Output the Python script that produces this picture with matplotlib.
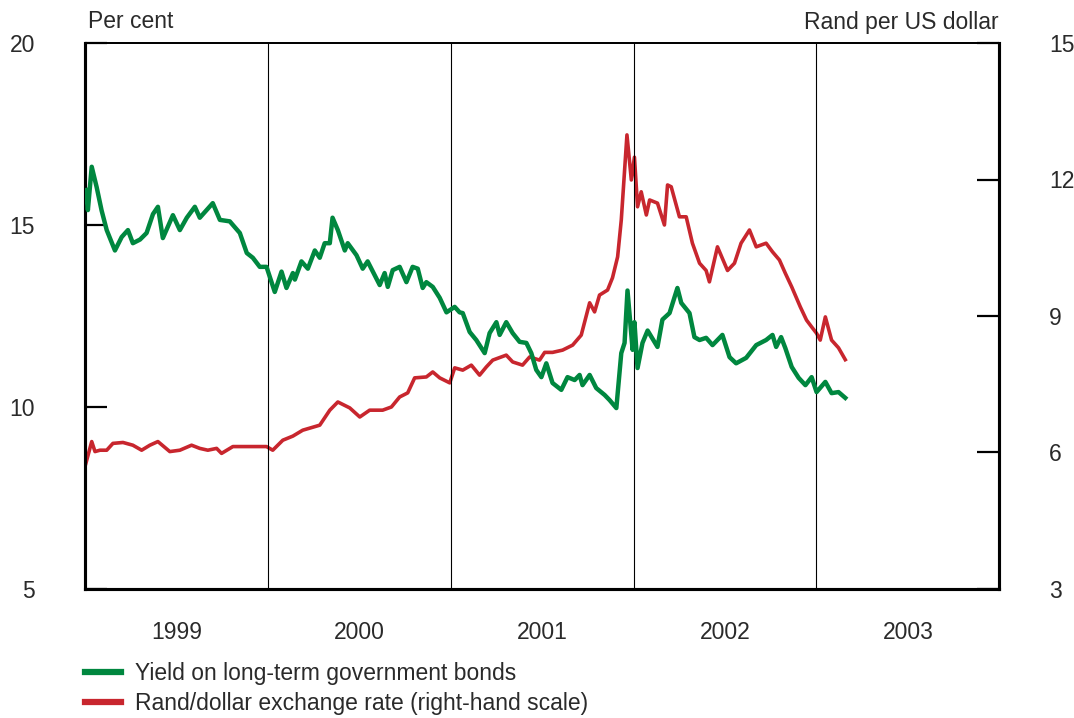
import matplotlib
matplotlib.use('Agg')
import matplotlib.pyplot as plt
from matplotlib.ticker import FixedLocator, NullFormatter

plt.rcParams['font.family'] = ['Liberation Sans', 'DejaVu Sans']

# bond yield, per cent (left scale)
yield_t = [1999.005, 1999.016, 1999.037, 1999.064, 1999.091, 1999.119, 1999.164, 1999.201, 1999.235, 1999.262,
           1999.301, 1999.337, 1999.372, 1999.399, 1999.426, 1999.481, 1999.519, 1999.557, 1999.601, 1999.628,
           1999.699, 1999.738, 1999.792, 1999.847, 1999.885, 1999.918, 1999.956, 1999.993, 2000.038, 2000.075,
           2000.102, 2000.137, 2000.148, 2000.184, 2000.219, 2000.257, 2000.284, 2000.311, 2000.339, 2000.354,
           2000.383, 2000.421, 2000.437, 2000.485, 2000.519, 2000.546, 2000.612, 2000.639, 2000.656, 2000.683,
           2000.721, 2000.758, 2000.792, 2000.820, 2000.847, 2000.867, 2000.902, 2000.940, 2000.977, 2001.022,
           2001.049, 2001.066, 2001.104, 2001.140, 2001.186, 2001.213, 2001.250, 2001.268, 2001.304, 2001.339,
           2001.377, 2001.414, 2001.441, 2001.468, 2001.496, 2001.523, 2001.557, 2001.605, 2001.639, 2001.678,
           2001.705, 2001.721, 2001.760, 2001.796, 2001.842, 2001.869, 2001.906, 2001.933, 2001.951, 2001.967,
           2001.995, 2002.005, 2002.022, 2002.049, 2002.077, 2002.131, 2002.158, 2002.197, 2002.240, 2002.261,
           2002.306, 2002.333, 2002.361, 2002.397, 2002.432, 2002.486, 2002.525, 2002.561, 2002.616, 2002.671,
           2002.725, 2002.760, 2002.780, 2002.807, 2002.830, 2002.865, 2002.903, 2002.940, 2002.974, 2003.001,
           2003.049, 2003.083, 2003.121, 2003.158]
yield_v = [15.96, 15.41, 16.6, 16.04, 15.4, 14.86, 14.3, 14.67, 14.86, 14.5,
           14.6, 14.78, 15.3, 15.5, 14.64, 15.27, 14.86, 15.2, 15.5, 15.2,
           15.6, 15.14, 15.1, 14.78, 14.23, 14.1, 13.85, 13.85, 13.16, 13.72,
           13.27, 13.68, 13.5, 14.0, 13.8, 14.3, 14.1, 14.5, 14.5, 15.2,
           14.86, 14.3, 14.5, 14.17, 13.8, 14.0, 13.35, 13.68, 13.3, 13.76,
           13.85, 13.43, 13.85, 13.8, 13.27, 13.43, 13.3, 13.0, 12.6, 12.75,
           12.6, 12.58, 12.06, 11.84, 11.48, 12.03, 12.33, 11.98, 12.33, 12.03,
           11.79, 11.76, 11.48, 11.02, 10.82, 11.2, 10.66, 10.47, 10.82, 10.74,
           10.88, 10.6, 10.88, 10.52, 10.33, 10.19, 9.97, 11.48, 11.76, 13.2,
           11.57, 12.33, 11.07, 11.76, 12.1, 11.65, 12.4, 12.58, 13.27, 12.86,
           12.58, 11.92, 11.84, 11.9, 11.7, 11.98, 11.37, 11.2, 11.35, 11.7,
           11.84, 11.98, 11.65, 11.92, 11.62, 11.1, 10.8, 10.6, 10.82, 10.41,
           10.69, 10.38, 10.41, 10.25]

# rand per US dollar (right scale)
rand_t = [1999.005, 1999.037, 1999.055, 1999.082, 1999.119, 1999.153, 1999.208, 1999.262, 1999.310, 1999.355,
          1999.399, 1999.464, 1999.519, 1999.583, 1999.628, 1999.672, 1999.720, 1999.747, 1999.809, 1999.902,
          1999.993, 2000.027, 2000.082, 2000.137, 2000.191, 2000.284, 2000.339, 2000.383, 2000.448, 2000.503,
          2000.557, 2000.628, 2000.676, 2000.721, 2000.765, 2000.803, 2000.867, 2000.902, 2000.940, 2000.995,
          2001.022, 2001.066, 2001.113, 2001.158, 2001.195, 2001.230, 2001.304, 2001.339, 2001.393, 2001.432,
          2001.486, 2001.514, 2001.557, 2001.612, 2001.667, 2001.714, 2001.760, 2001.787, 2001.814, 2001.858,
          2001.885, 2001.913, 2001.933, 2001.964, 2001.988, 2002.005, 2002.022, 2002.042, 2002.070, 2002.088,
          2002.131, 2002.169, 2002.186, 2002.206, 2002.251, 2002.288, 2002.322, 2002.361, 2002.397, 2002.415,
          2002.459, 2002.514, 2002.552, 2002.588, 2002.634, 2002.671, 2002.725, 2002.760, 2002.798, 2002.830,
          2002.865, 2002.912, 2002.946, 2002.974, 2003.001, 2003.021, 2003.049, 2003.083, 2003.121, 2003.158]
rand_v = [5.76, 6.24, 6.02, 6.05, 6.05, 6.2, 6.22, 6.16, 6.05, 6.16,
          6.24, 6.02, 6.05, 6.16, 6.09, 6.05, 6.09, 5.98, 6.13, 6.13,
          6.13, 6.05, 6.27, 6.36, 6.49, 6.6, 6.93, 7.11, 6.98, 6.78,
          6.93, 6.93, 7.0, 7.22, 7.31, 7.64, 7.66, 7.77, 7.64, 7.53,
          7.86, 7.81, 7.92, 7.7, 7.88, 8.03, 8.14, 7.99, 7.92, 8.1,
          8.03, 8.2, 8.2, 8.25, 8.36, 8.58, 9.29, 9.09, 9.46, 9.57,
          9.84, 10.3, 11.11, 12.98, 11.99, 12.49, 11.4, 11.73, 11.22, 11.55,
          11.48, 11.0, 11.88, 11.84, 11.18, 11.18, 10.6, 10.16, 10.0, 9.75,
          10.52, 10.0, 10.16, 10.6, 10.89, 10.52, 10.6, 10.41, 10.23, 9.94,
          9.64, 9.2, 8.91, 8.76, 8.62, 8.47, 8.98, 8.47, 8.3, 8.04]

years = [1999, 2000, 2001, 2002, 2003]
left_ticks = [5, 10, 15, 20]
right_ticks = [3, 6, 9, 12, 15]

green = '#00873f'
red = '#c8262e'
txt = '#2a2a2a'
fs = 16.5

fig = plt.figure(figsize=(10.74, 7.18), dpi=100)
ax1 = fig.add_axes([0.0791, 0.1797, 0.8513, 0.7604])
ax2 = ax1.twinx()

for y in years[1:]:
    ax1.axvline(y, color='0.0', lw=0.8, zorder=1)

l1, = ax1.plot(yield_t, yield_v, color=green, lw=3.2, zorder=3,
               label='Yield on long-term government bonds')
l2, = ax2.plot(rand_t, rand_v, color=red, lw=2.6, zorder=3,
               label='Rand/dollar exchange rate (right-hand scale)')
ax1.set_zorder(ax2.get_zorder() + 1)
ax1.patch.set_visible(False)

ax1.set_xlim(1999, 2004)
ax1.set_ylim(5, 20)
ax2.set_ylim(3, 15)

ax1.xaxis.set_major_locator(FixedLocator(years[1:]))
ax1.xaxis.set_major_formatter(NullFormatter())
ax1.xaxis.set_minor_locator(FixedLocator([y + 0.5 for y in years]))
ax1.set_xticklabels([str(y) for y in years], minor=True)
ax1.tick_params(axis='x', which='both', length=0, pad=23, labelsize=fs, labelcolor=txt)

ax1.set_yticks(left_ticks)
ax1.tick_params(axis='y', direction='in', length=16, width=1.6, pad=36,
                labelsize=fs, labelcolor=txt)
ax2.set_yticks(right_ticks)
ax2.tick_params(axis='y', direction='in', length=16, width=1.6, pad=36,
                labelsize=fs, labelcolor=txt)

for a in (ax1, ax2):
    for s in ('left', 'right', 'bottom'):
        a.spines[s].set_linewidth(2.2)
    a.spines['top'].set_linewidth(1.3)

fig.text(88 / 1074, 1 - 22 / 718, 'Per cent', fontsize=fs, color=txt, va='center', ha='left')
fig.text(999 / 1074, 1 - 22 / 718, 'Rand per US dollar', fontsize=fs, color=txt, va='center', ha='right')

leg = fig.legend(handles=[l1, l2], loc='upper left', bbox_to_anchor=(85 / 1074, 1 - 662 / 718),
                 frameon=False, fontsize=fs, handlelength=1.55, handletextpad=0.65,
                 borderpad=0, borderaxespad=0, labelspacing=0.3, labelcolor=txt)
for ln in leg.get_lines():
    ln.set_linewidth(4.5)

fig.savefig('out.png', dpi=100)
